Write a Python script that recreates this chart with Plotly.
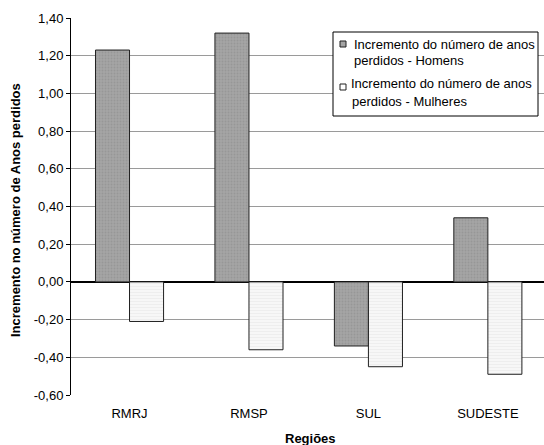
import plotly.graph_objects as go

# Data
regioes = ["RMRJ", "RMSP", "SUL", "SUDESTE"]
homens = [1.23, 1.32, -0.34, 0.34]
mulheres = [-0.21, -0.36, -0.45, -0.49]
y_ticks = [-0.6, -0.4, -0.2, 0.0, 0.2, 0.4, 0.6, 0.8, 1.0, 1.2, 1.4]
y_ticktext = ["-0,60", "-0,40", "-0,20", "0,00", "0,20", "0,40", "0,60",
              "0,80", "1,00", "1,20", "1,40"]
nome_homens = "Incremento do número de anos<br>perdidos - Homens"
nome_mulheres = "Incremento do número de anos<br>perdidos - Mulheres"

W, H = 544, 445
L, R, T, B = 71, 0, 18, 50
PW, PH = W - L - R, H - T - B
FONT = "Liberation Sans, Arial, sans-serif"
FS = 13


def px(x):
    return (x - L) / PW


def py(y):
    return (H - B - y) / PH


fig = go.Figure()
fig.add_trace(go.Bar(
    x=regioes, y=homens, name=nome_homens,
    marker=dict(color="#a4a4a4", line=dict(color="#202020", width=1),
                pattern=dict(shape=".", fgcolor="#8a8a8a", size=3, solidity=0.35)),
))
fig.add_trace(go.Bar(
    x=regioes, y=mulheres, name=nome_mulheres,
    marker=dict(color="#f7f7f7", line=dict(color="#202020", width=1),
                pattern=dict(shape="-", fgcolor="#e2e2e2", size=3, solidity=0.3)),
))

shapes = [
    # legend frame
    dict(type="rect", xref="paper", yref="paper",
         x0=px(333), x1=px(538), y0=py(116), y1=py(32),
         line=dict(color="black", width=1), fillcolor="white", layer="above"),
    # legend swatches
    dict(type="rect", xref="paper", yref="paper",
         x0=px(340), x1=px(346), y0=py(47), y1=py(41),
         line=dict(color="#202020", width=1), fillcolor="#a4a4a4", layer="above"),
    dict(type="rect", xref="paper", yref="paper",
         x0=px(340), x1=px(346), y0=py(90), y1=py(84),
         line=dict(color="#202020", width=1), fillcolor="white", layer="above"),
]

annotations = [
    dict(text="Incremento do número de anos", x=px(352), y=py(44), xref="paper", yref="paper",
         xanchor="left", yanchor="middle", showarrow=False, font=dict(size=FS)),
    dict(text="perdidos - Homens", x=px(352), y=py(61), xref="paper", yref="paper",
         xanchor="left", yanchor="middle", showarrow=False, font=dict(size=FS)),
    dict(text="Incremento do número de anos", x=px(349), y=py(84), xref="paper", yref="paper",
         xanchor="left", yanchor="middle", showarrow=False, font=dict(size=FS)),
    dict(text="perdidos - Mulheres", x=px(350), y=py(101), xref="paper", yref="paper",
         xanchor="left", yanchor="middle", showarrow=False, font=dict(size=FS)),
    # axis titles
    dict(text="<b>Regiões</b>", x=px(310), y=py(438), xref="paper", yref="paper",
         xanchor="center", yanchor="middle", showarrow=False, font=dict(size=FS)),
    dict(text="<b>Incremento no número de Anos perdidos</b>", x=px(15), y=py(210),
         xref="paper", yref="paper", xanchor="center", yanchor="middle",
         textangle=-90, showarrow=False, font=dict(size=FS)),
]

fig.update_layout(
    width=W, height=H,
    margin=dict(l=L, r=R, t=T, b=B, pad=0),
    paper_bgcolor="white", plot_bgcolor="white",
    font=dict(family=FONT, size=FS, color="black"),
    showlegend=False,
    barmode="group", bargap=0.43, bargroupgap=0,
    shapes=shapes, annotations=annotations,
    xaxis=dict(
        type="category", range=[-0.49, 3.47],
        showgrid=False, showline=False, zeroline=False,
        ticks="", ticklabelstandoff=9,
        tickfont=dict(size=FS),
    ),
    yaxis=dict(
        range=[-0.6, 1.4], tickvals=y_ticks, ticktext=y_ticktext,
        showgrid=True, gridcolor="#9a9a9a", gridwidth=1,
        zeroline=True, zerolinecolor="black", zerolinewidth=2,
        showline=True, linecolor="black", linewidth=1,
        ticks="outside", ticklen=4, tickcolor="black",
        tickfont=dict(size=FS),
    ),
)

fig.write_html("out.html")
